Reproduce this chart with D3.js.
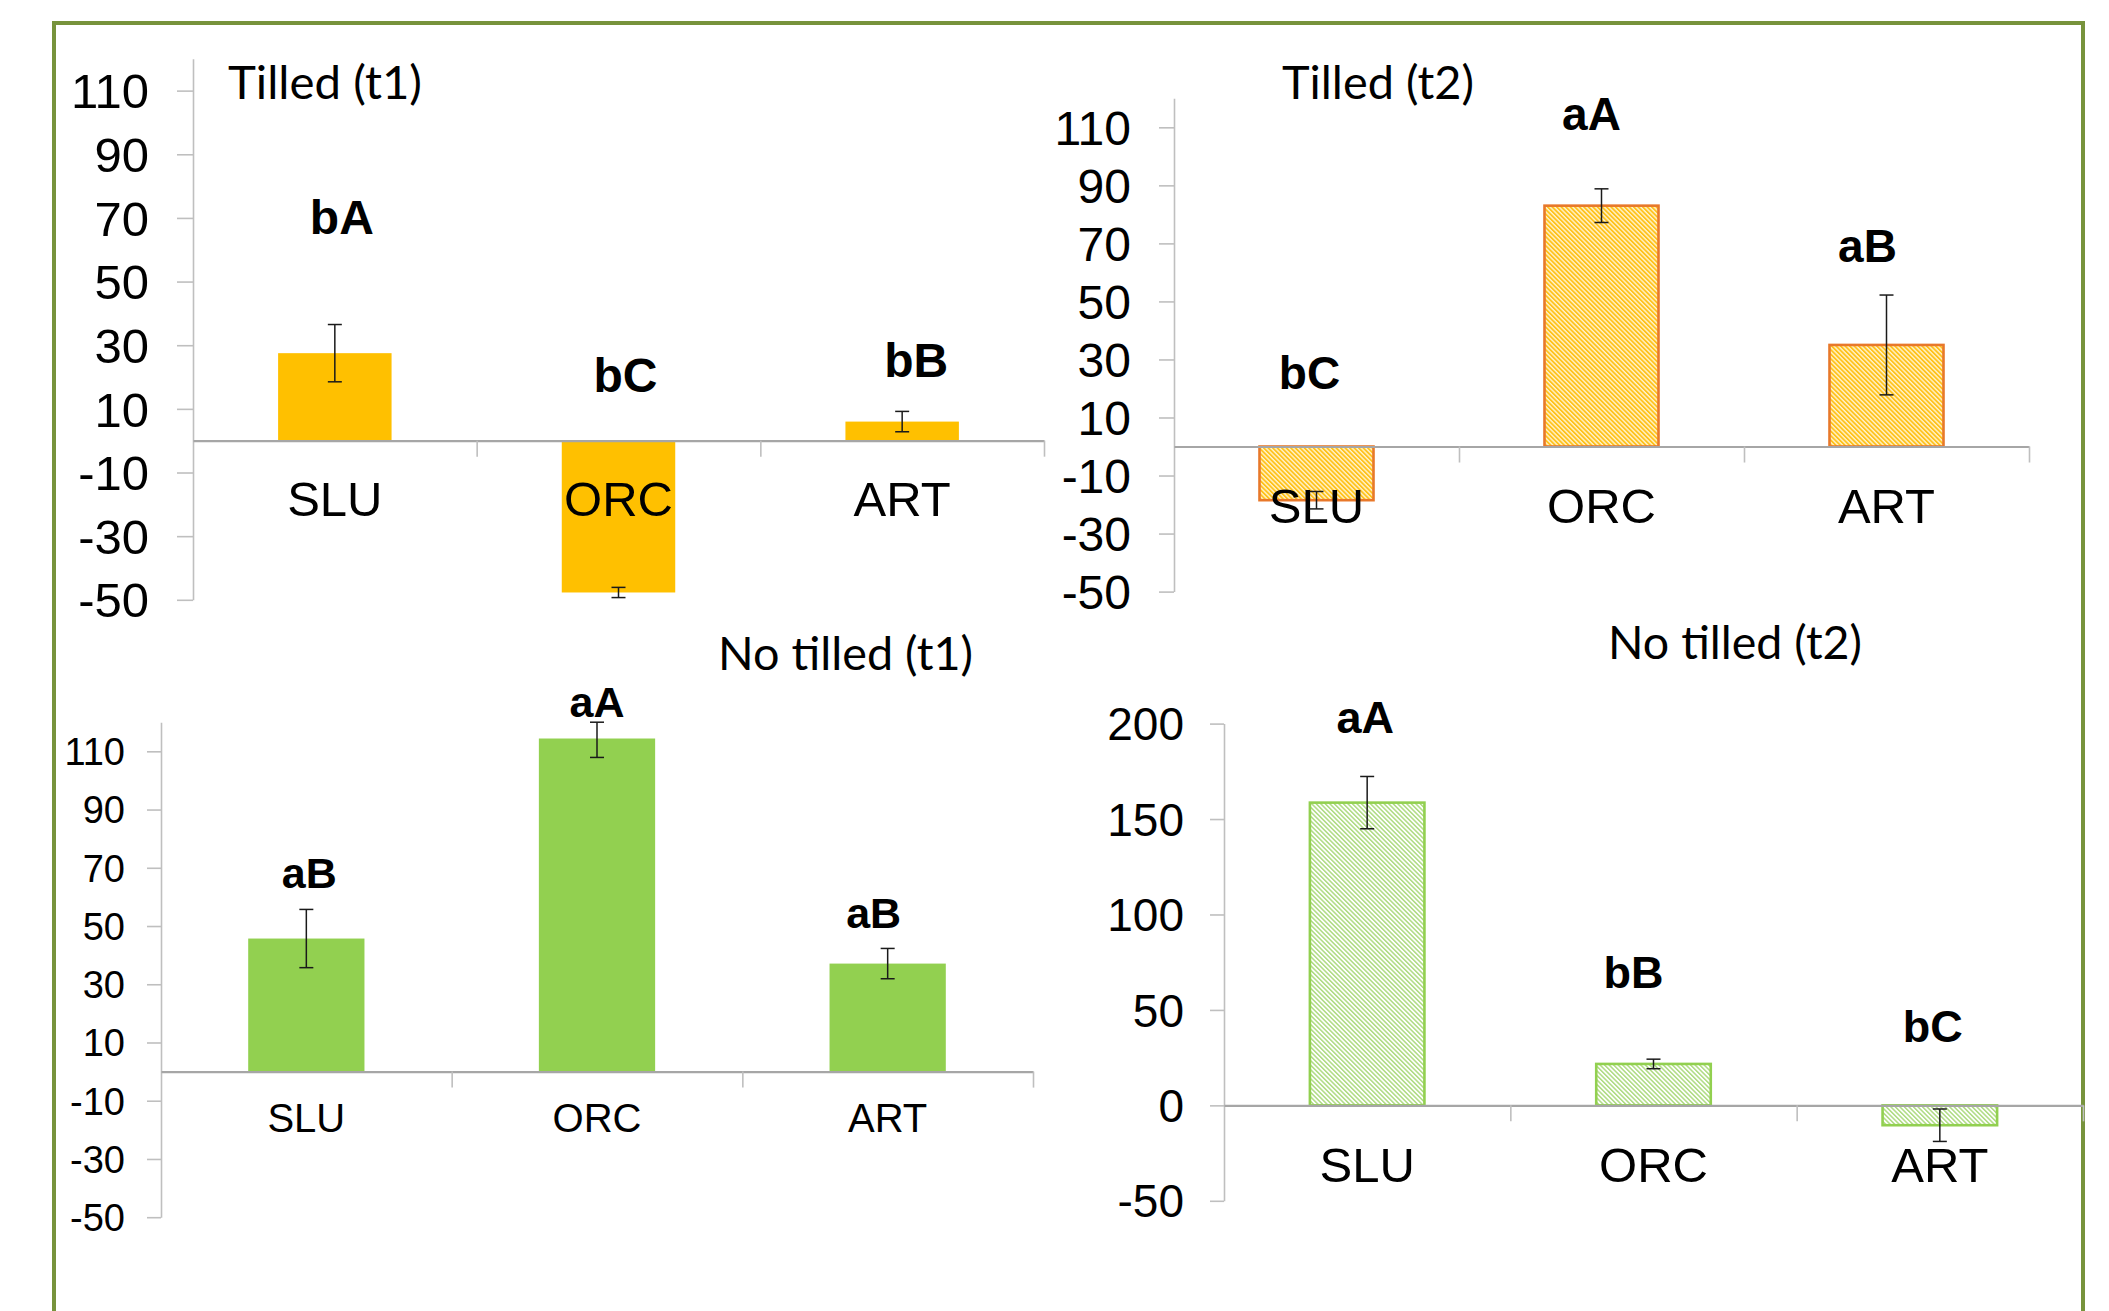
<!DOCTYPE html>
<html>
<head>
<meta charset="utf-8">
<script src="https://cdn.jsdelivr.net/npm/d3@7"></script>
<style>
  html, body { margin: 0; padding: 0; background: #fff; }
  svg { display: block; }
</style>
</head>
<body>
<div id="chart"></div>
<script>
//--------------------------------------------------
// Data
//--------------------------------------------------
const categories = ["SLU", "ORC", "ART"];

const tilledT1       = [27.5, -47.7, 6.0];
const tilledT1Err    = [9.0, 1.6, 3.2];
const tilledT1Letters = ["bA", "bC", "bB"];

const tilledT2       = [-18.5, 83.0, 35.0];
const tilledT2Err    = [3.0, 5.8, 17.2];
const tilledT2Letters = ["bC", "aA", "aB"];

const noTilledT1       = [45.7, 114.4, 37.1];
const noTilledT1Err    = [10.0, 6.5, 5.2];
const noTilledT1Letters = ["aB", "aA", "aB"];

const noTilledT2       = [158.6, 21.7, -10.4];
const noTilledT2Err    = [13.7, 2.5, 8.5];
const noTilledT2Letters = ["aA", "bB", "bC"];

const ticksSmall = [-50, -30, -10, 10, 30, 50, 70, 90, 110];
const ticksLarge = [-50, 0, 50, 100, 150, 200];

//--------------------------------------------------
// Style
//--------------------------------------------------
const FRAME   = "#77933C";
const AXIS    = "#BFBFBF";
const ZERO    = "#A6A6A6";
const YELLOW  = "#FFC000";
const GREEN   = "#92D050";
const ORANGE  = "#E8782A";
const SANS    = "'Liberation Sans', Arial, sans-serif";
const TITLE_F = "Lato, 'Open Sans', sans-serif";

const W = 2109, H = 1311;

const svg = d3.select("#chart").append("svg")
  .attr("width", W).attr("height", H)
  .style("background", "#fff");

const defs = svg.append("defs");

function hatch(id, bg, stripe, sw) {
  const p = defs.append("pattern")
    .attr("id", id)
    .attr("patternUnits", "userSpaceOnUse")
    .attr("width", 3.2).attr("height", 3.2)
    .attr("patternTransform", "rotate(-45)");
  p.append("rect").attr("width", 3.2).attr("height", 3.2).attr("fill", bg);
  p.append("rect").attr("width", sw).attr("height", 3.2).attr("fill", stripe);
}
hatch("hatchY", "#FFF3CF", "#FFC21A", 1.8);
hatch("hatchG", "#FFFFFF", "#AEDB82", 1.5);

// green outer frame (open at the bottom)
svg.append("path")
  .attr("d", `M54,${H + 5} V23 H2083 V${H + 5}`)
  .attr("fill", "none")
  .attr("stroke", FRAME)
  .attr("stroke-width", 4);

//--------------------------------------------------
// Panels
//--------------------------------------------------
const panels = [
  {
    title: "Tilled (t1)", titleX: 228, titleY: 99, titleW: 194,
    values: tilledT1, errs: tilledT1Err, letters: tilledT1Letters,
    x0: 193, x1: 1044, yBottom: 599.8, yTop: 58.8, domain: [-50, 120],
    ticks: ticksSmall, tickFont: 49, tickLen: 16, tickPad: 28,
    catFont: 49, catY: 516,
    letterFont: 48, letterY: [64.8, 15.4, 19.9], letterDx: [7, 7, 14],
    fill: YELLOW, stroke: "none"
  },
  {
    title: "Tilled (t2)", titleX: 1282, titleY: 99, titleW: 192,
    values: tilledT2, errs: tilledT2Err, letters: tilledT2Letters,
    x0: 1174, x1: 2029, yBottom: 591.6, yTop: 98.3, domain: [-50, 120],
    ticks: ticksSmall, tickFont: 48, tickLen: 15, tickPad: 28,
    catFont: 49, catY: 523,
    letterFont: 46, letterY: [19.8, 109.1, 63.5], letterDx: [-7, -10, -19],
    fill: "url(#hatchY)", stroke: ORANGE
  },
  {
    title: "No tilled (t1)", titleX: 718, titleY: 670, titleW: 255,
    values: noTilledT1, errs: noTilledT1Err, letters: noTilledT1Letters,
    x0: 161, x1: 1033, yBottom: 1217.2, yTop: 722.2, domain: [-50, 120],
    ticks: ticksSmall, tickFont: 38, tickLen: 14, tickPad: 22,
    catFont: 40, catY: 1132,
    letterFont: 43, letterY: [62.9, 121.7, 49.3], letterDx: [3, 0, -14],
    fill: GREEN, stroke: "none"
  },
  {
    title: "No tilled (t2)", titleX: 1608, titleY: 659, titleW: 254,
    values: noTilledT2, errs: noTilledT2Err, letters: noTilledT2Letters,
    x0: 1224, x1: 2083, yBottom: 1200.8, yTop: 723.6, domain: [-50, 200],
    ticks: ticksLarge, tickFont: 46, tickLen: 14, tickPad: 26,
    catFont: 49, catY: 1182,
    letterFont: 45, letterY: [195, 61.7, 33.4], letterDx: [-2, -20, -7],
    fill: "url(#hatchG)", stroke: GREEN
  }
];

function drawPanel(p) {
  const g = svg.append("g");

  const x = d3.scaleBand()
    .domain(categories)
    .range([p.x0, p.x1])
    .paddingInner(0.6)
    .paddingOuter(0.3);

  const y = d3.scaleLinear().domain(p.domain).range([p.yBottom, p.yTop]);

  // y axis (plain hyphen for negatives, as in the original)
  const yAxis = g.append("g")
    .attr("transform", `translate(${p.x0},0)`)
    .call(d3.axisLeft(y).tickValues(p.ticks).tickSize(p.tickLen)
      .tickSizeOuter(0).tickPadding(p.tickPad).tickFormat(d => String(d)));
  yAxis.select(".domain").attr("stroke", AXIS).attr("stroke-width", 1.6);
  yAxis.selectAll(".tick line").attr("stroke", AXIS).attr("stroke-width", 1.6);
  yAxis.selectAll(".tick text")
    .attr("font-family", SANS).attr("font-size", p.tickFont)
    .attr("fill", "#000").attr("dy", "0.35em");

  // bars
  const bw = x.bandwidth();
  g.append("g").selectAll("rect")
    .data(p.values)
    .join("rect")
    .attr("x", (d, i) => x(categories[i]))
    .attr("width", bw)
    .attr("y", d => y(Math.max(0, d)))
    .attr("height", d => Math.abs(y(d) - y(0)))
    .attr("fill", p.fill)
    .attr("stroke", p.stroke)
    .attr("stroke-width", p.stroke === "none" ? 0 : 2.6);

  // zero line with category-separator ticks
  const xi = d3.scaleLinear().domain([0, categories.length]).range([p.x0, p.x1]);
  const xAxis = g.append("g")
    .attr("transform", `translate(0,${y(0)})`)
    .call(d3.axisBottom(xi).tickValues([1, 2, 3]).tickSize(16)
      .tickSizeOuter(0).tickFormat(""));
  xAxis.select(".domain").attr("stroke", ZERO).attr("stroke-width", 2.2);
  xAxis.selectAll(".tick line").attr("stroke", AXIS).attr("stroke-width", 1.6);

  // category labels
  g.append("g").selectAll("text")
    .data(categories)
    .join("text")
    .attr("x", d => x(d) + bw / 2)
    .attr("y", p.catY)
    .attr("text-anchor", "middle")
    .attr("font-family", SANS)
    .attr("font-size", p.catFont)
    .attr("fill", "#000")
    .text(d => d);

  // error bars
  const eb = g.append("g").attr("stroke", "#1a1a1a").attr("stroke-width", 1.5);
  p.values.forEach((v, i) => {
    const cx = x(categories[i]) + bw / 2;
    const hi = Math.min(v + p.errs[i], p.domain[1]);
    const lo = v - p.errs[i];
    eb.append("line").attr("x1", cx).attr("x2", cx).attr("y1", y(hi)).attr("y2", y(lo));
    [hi, lo].forEach(e =>
      eb.append("line").attr("x1", cx - 7).attr("x2", cx + 7).attr("y1", y(e)).attr("y2", y(e)));
  });

  // significance letters
  g.append("g").selectAll("text")
    .data(p.letters)
    .join("text")
    .attr("x", (d, i) => x(categories[i]) + bw / 2 + p.letterDx[i])
    .attr("y", (d, i) => y(p.letterY[i]))
    .attr("text-anchor", "middle")
    .attr("font-family", SANS)
    .attr("font-weight", "bold")
    .attr("font-size", p.letterFont)
    .attr("fill", "#000")
    .text(d => d);

  // panel title
  g.append("text")
    .attr("x", p.titleX)
    .attr("y", p.titleY)
    .attr("font-family", TITLE_F)
    .attr("font-size", 46)
    .attr("textLength", p.titleW)
    .attr("lengthAdjust", "spacingAndGlyphs")
    .attr("fill", "#000")
    .text(p.title);
}

panels.forEach(drawPanel);

// cropped fragment of a bracket left over at the right edge of the lower-right panel
defs.append("clipPath").attr("id", "cut")
  .append("rect").attr("x", 2027).attr("y", 700).attr("width", 20).attr("height", 100);
svg.append("text")
  .attr("x", 2016).attr("y", 762)
  .attr("font-family", TITLE_F)
  .attr("font-size", 46)
  .attr("clip-path", "url(#cut)")
  .text(")");
</script>
</body>
</html>
